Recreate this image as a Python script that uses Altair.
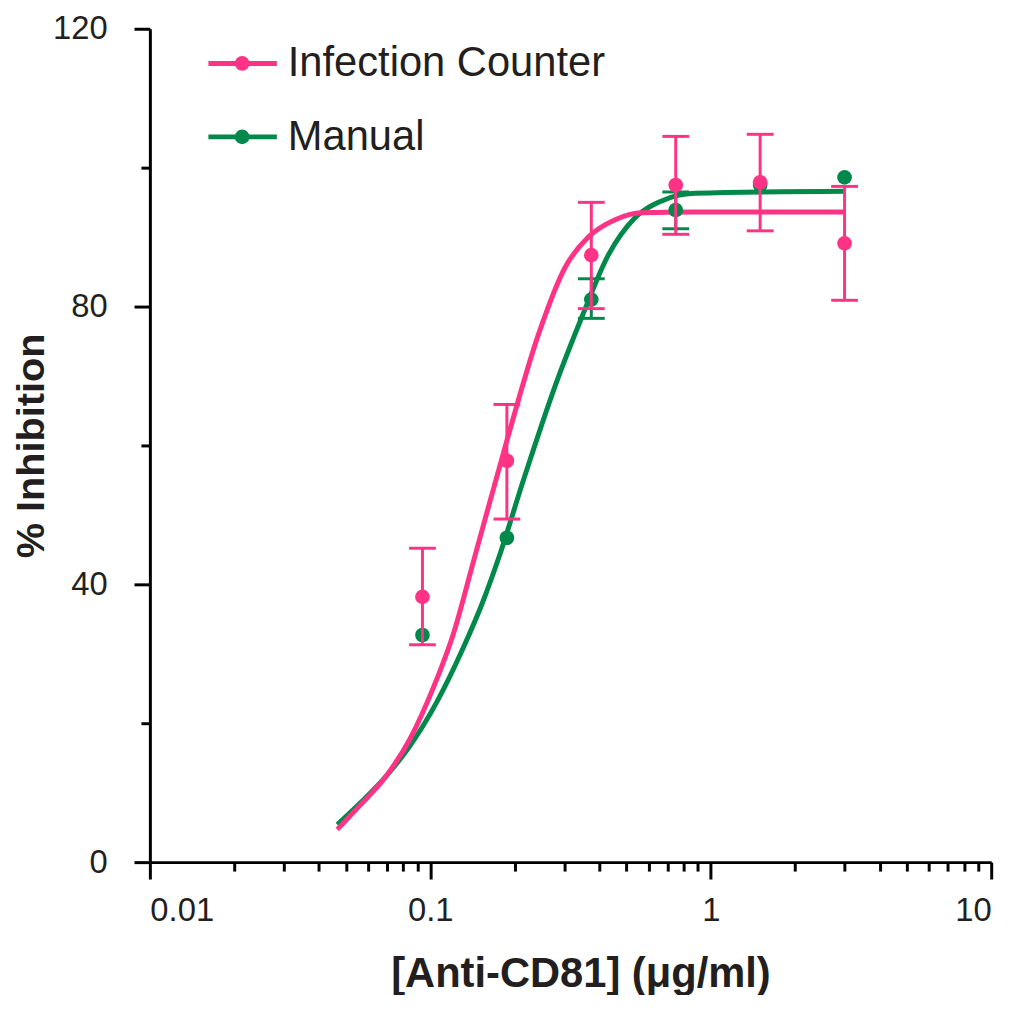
import altair as alt
import pandas as pd

# series names and colours
series = ["Infection Counter", "Manual"]
colors = ["#ff3385", "#00894a"]

# antibody dilutions (ug/ml)
conc = [0.09375, 0.1875, 0.375, 0.75, 1.5, 3.0]

# Infection Counter: mean and error bar ends
ic_mean = [38.2, 57.8, 87.4, 97.5, 97.9, 89.1]
ic_lo = [31.3, 49.4, 79.7, 90.4, 90.9, 80.9]
ic_hi = [45.2, 65.9, 95.0, 104.5, 104.8, 97.3]

# Manual counting: mean and error bar ends (only two visible)
man_mean = [32.7, 46.7, 81.0, 93.9, 97.5, 98.6]
man_lo = [None, None, 78.3, 91.2, None, None]
man_hi = [None, None, 84.0, 96.5, None, None]

# fitted dose-response curves
ic_fit_x = [0.0466, 0.0562, 0.0684, 0.0845, 0.1027, 0.1209, 0.1423, 0.186, 0.244, 0.303, 0.366, 0.456, 0.569, 0.875, 3.0]
ic_fit_y = [4.7, 8.2, 12.0, 17.7, 25.2, 32.9, 43.2, 60.2, 76.2, 85.7, 90.0, 92.5, 93.5, 93.6, 93.6]
man_fit_x = [0.0466, 0.0562, 0.0700, 0.0845, 0.1053, 0.1312, 0.1543, 0.176, 0.214, 0.280, 0.348, 0.431, 0.537, 0.668, 0.875, 3.0]
man_fit_y = [5.4, 8.5, 12.5, 16.7, 23.0, 30.9, 37.6, 44.0, 54.8, 68.8, 78.6, 87.4, 92.8, 95.2, 96.3, 96.6]

# axis ticks
x_decades = [0.01, 0.1, 1, 10]
x_ticks = [round(m * d, 6) for d in x_decades[:-1] for m in range(1, 10)] + [10]
y_ticks = [0, 20, 40, 60, 80, 100, 120]

font = "Liberation Sans"
ink = "#231f20"

means = {series[0]: ic_mean, series[1]: man_mean}
los = {series[0]: ic_lo, series[1]: man_lo}
his = {series[0]: ic_hi, series[1]: man_hi}

fit = pd.concat([
    pd.DataFrame({"conc": man_fit_x, "inh": man_fit_y, "series": series[1]}),
    pd.DataFrame({"conc": ic_fit_x, "inh": ic_fit_y, "series": series[0]}),
])

x_axis = alt.Axis(
    values=x_ticks,
    labelExpr="indexof(%s, datum.value) >= 0 ? toString(datum.value) : ''" % str(x_decades),
    tickSize={"condition": {"test": "indexof(%s, datum.value) >= 0" % str(x_decades), "value": 17}, "value": 9},
    labelPadding=16, labelFontSize=33, titleFontSize=42, titlePadding=26, titleX=434,
)
y_axis = alt.Axis(
    values=y_ticks,
    labelExpr="datum.value % 40 == 0 ? datum.label : ''",
    tickSize={"condition": {"test": "datum.value % 40 == 0", "value": 16}, "value": 9},
    labelPadding=27, labelFontSize=33, titleFontSize=40, titlePadding=1,
)
x_scale = alt.Scale(type="log", domain=[0.01, 10])
y_scale = alt.Scale(domain=[0, 120], nice=False)
x_title = "[Anti-CD81] (μg/ml)"
y_title = "% Inhibition"

col_scale = alt.Scale(domain=series, range=colors)
col = alt.Color("series:N", scale=col_scale, legend=None)


def xy(field="inh"):
    return dict(
        x=alt.X("conc:Q", scale=x_scale, axis=x_axis, title=x_title),
        y=alt.Y(field + ":Q", scale=y_scale, axis=y_axis, title=y_title),
    )


lines = alt.Chart(fit).mark_line(strokeWidth=5, interpolate="monotone").encode(
    color=col, detail="series:N", **xy()
)

layers = [lines]
for s in [series[1], series[0]]:
    pts = pd.DataFrame({"conc": conc, "inh": means[s], "lo": los[s], "hi": his[s], "series": s})
    err = pts.dropna(subset=["lo", "hi"])
    caps = pd.concat([
        err[["conc", "series"]].assign(inh=err["lo"]),
        err[["conc", "series"]].assign(inh=err["hi"]),
    ])
    rule = alt.Chart(err).mark_rule(strokeWidth=3).encode(y2="hi:Q", color=col, **xy("lo"))
    cap = alt.Chart(caps).mark_tick(orient="horizontal", size=27, thickness=3, opacity=1).encode(
        color=col, **xy()
    )
    dots = alt.Chart(pts).mark_point(filled=True, size=220, opacity=1).encode(color=col, **xy())
    if s == series[0]:
        layers += [rule, cap, dots]
    else:
        layers += [dots, rule, cap]

# legend drawn as a small key in the top-left corner of the plot
key = alt.Chart(pd.DataFrame({"series": series, "row": [0, 1]})).transform_calculate(
    ypix="35 + datum.row * 74"
)
key_y = alt.Y("ypix:Q", scale=None, axis=None)
key_line = key.mark_rule(strokeWidth=5).encode(x=alt.value(59), x2=alt.value(128), y=key_y, color=col)
key_dot = key.mark_point(filled=True, size=220, opacity=1).encode(x=alt.value(93), y=key_y, color=col)
key_text = key.mark_text(align="left", baseline="middle", font=font, fontSize=42, color=ink).encode(
    x=alt.value(139), y=key_y, text="series:N"
)
layers += [key_line, key_dot, key_text]

chart = alt.layer(*layers).properties(
    width=848, height=840,
    autosize="none",
    padding={"left": 143, "top": 17, "right": 25, "bottom": 130},
).configure_view(
    stroke=None
).configure_axis(
    domainColor="black", domainWidth=3, tickColor="black", tickWidth=3,
    grid=False, labelFont=font, labelColor=ink, titleFont=font, titleColor=ink,
    titleFontWeight="bold",
)

chart.save("out.html", embed_options={"renderer": "svg", "actions": False})
